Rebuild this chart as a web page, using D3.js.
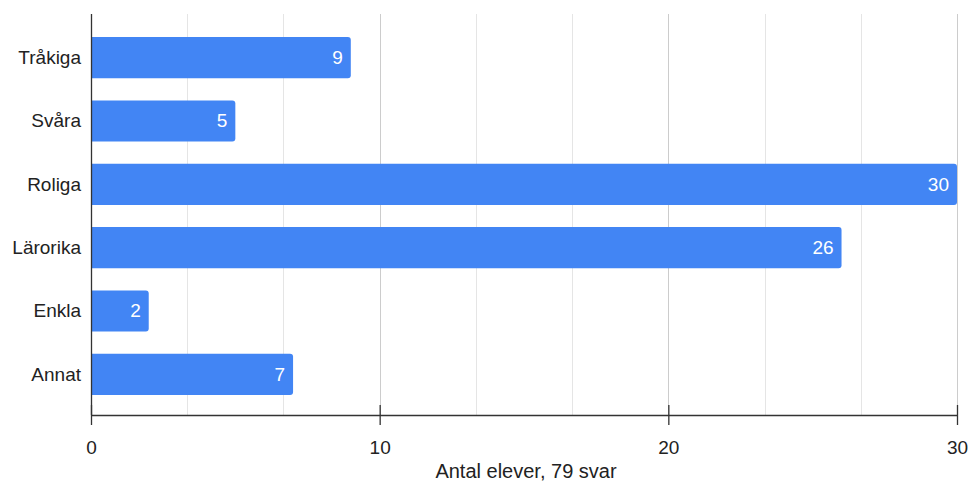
<!DOCTYPE html>
<html><head><meta charset="utf-8">
<script src="https://cdn.jsdelivr.net/npm/d3@7"></script>
<style>body{margin:0;background:#fff}svg{display:block}</style>
</head><body>
<svg id="c" width="971" height="482"></svg>
<script>
const categories = ["Tråkiga","Svåra","Roliga","Lärorika","Enkla","Annat"];
const values = [9,5,30,26,2,7];
const xTicks = [0,10,20,30];
const xTitle = "Antal elever, 79 svar";

const svg = d3.select("#c");
const font = "'Liberation Sans', Arial, sans-serif";
const x = d3.scaleLinear().domain([0,30]).range([91,957]);
const y = d3.scaleBand().domain(categories).range([26,406]).paddingInner(0.35).paddingOuter(0.175);

// gridlines
const grid = d3.range(1,10).map(i => i*10/3);
svg.append("g").selectAll("line").data(grid).join("line")
  .attr("x1", d => Math.round(x(d))+0.5).attr("x2", d => Math.round(x(d))+0.5)
  .attr("y1", 14).attr("y2", 415)
  .attr("stroke", (d,i) => (i%3===2) ? "#cccccc" : "#e5e5e5").attr("stroke-width",1);

// bars
const r = 3;
svg.append("g").selectAll("path").data(categories).join("path")
  .attr("fill","#4285f4")
  .attr("d",(c,i)=>{
    const x0 = x(0), x1 = x(values[i]), y0 = y(c), h = y.bandwidth();
    return `M${x0},${y0}H${x1-r}Q${x1},${y0} ${x1},${y0+r}V${y0+h-r}Q${x1},${y0+h} ${x1-r},${y0+h}H${x0}Z`;
  });

// value labels
svg.append("g").selectAll("text").data(categories).join("text")
  .attr("x",(c,i)=>x(values[i])-8).attr("y",c=>y(c)+y.bandwidth()/2)
  .attr("dy","0.33em").attr("text-anchor","end")
  .attr("fill","#fff").attr("font-family",font).attr("font-size",19)
  .text((c,i)=>values[i]);

// y axis
const ya = svg.append("g").attr("transform","translate(91,0)")
  .call(d3.axisLeft(y).tickSize(0).tickPadding(10));
ya.select(".domain").remove();
ya.append("line").attr("x1",0.5).attr("x2",0.5).attr("y1",14).attr("y2",415).attr("stroke","#333").attr("stroke-width",1.3);
ya.selectAll("text").attr("font-family",font).attr("font-size",19).attr("fill","#222").attr("dy","0.33em");

// x axis
const xa = svg.append("g").attr("transform","translate(0,415)")
  .call(d3.axisBottom(x).tickValues(xTicks).tickSizeInner(10).tickSizeOuter(0));
xa.select(".domain").attr("stroke","#333").attr("stroke-width",1.3);
xa.selectAll(".tick line").attr("stroke","#333").attr("stroke-width",1.3).attr("y1",-10);
xa.selectAll("text").attr("font-family",font).attr("font-size",19).attr("fill","#222")
  .attr("y",39).attr("dy",null);

svg.append("text").attr("x",526).attr("y",478).attr("text-anchor","middle")
  .attr("font-family",font).attr("font-size",20).attr("fill","#222").text(xTitle);
</script>
</body></html>
